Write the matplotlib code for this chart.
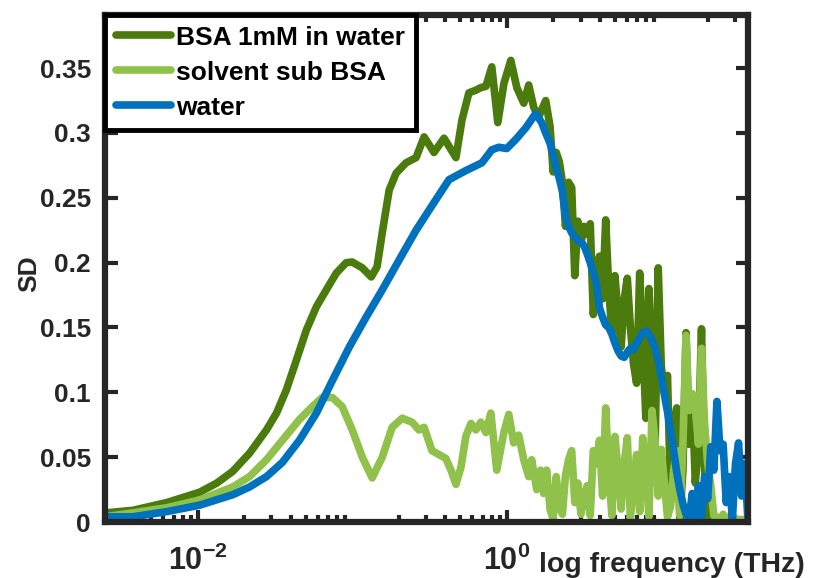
import matplotlib
matplotlib.use("Agg")
import matplotlib.pyplot as plt
import numpy as np
from matplotlib.ticker import FixedLocator, FormatStrFormatter, NullFormatter

# SD spectra vs log10 frequency (THz); the smooth low-frequency part of each
# trace is listed on its own, the noisy high-frequency part shares one grid.
bsa_logf = [-2.60, -2.42, -2.20, -1.987, -1.877, -1.774, -1.665, -1.555, -1.490, -1.426,
            -1.361, -1.297, -1.232, -1.168, -1.103, -1.039, -1.000, -0.935, -0.877, -0.839,
            -0.806, -0.761, -0.716, -0.652, -0.587, -0.535, -0.471, -0.406, -0.329, -0.290,
            -0.245, -0.200, -0.168, -0.135, -0.097, -0.058, -0.019, 0.026, 0.065, 0.110,
            0.142, 0.174, 0.206, 0.226, 0.252]
bsa_sd = [0.007, 0.009, 0.015, 0.023, 0.030, 0.039, 0.053, 0.071, 0.084, 0.102,
          0.125, 0.148, 0.166, 0.179, 0.192, 0.200, 0.2005, 0.196, 0.189, 0.197,
          0.223, 0.256, 0.269, 0.277, 0.281, 0.297, 0.285, 0.296, 0.281, 0.310,
          0.331, 0.333, 0.335, 0.336, 0.351, 0.308, 0.338, 0.356, 0.335, 0.323,
          0.337, 0.320, 0.312, 0.318, 0.325]

solvent_logf = [-2.60, -2.42, -2.20, -1.987, -1.774, -1.665, -1.555, -1.452, -1.342, -1.258,
                -1.194, -1.129, -1.065, -1.000, -0.935, -0.871, -0.806, -0.742, -0.677, -0.613,
                -0.568, -0.535, -0.484, -0.439, -0.394, -0.361, -0.329, -0.297, -0.265, -0.232,
                -0.200, -0.168, -0.135, -0.103, -0.065, -0.019, 0.013, 0.045, 0.077, 0.110,
                0.142, 0.161, 0.194, 0.219, 0.239, 0.258]
solvent_sd = [0.004, 0.007, 0.011, 0.017, 0.027, 0.035, 0.048, 0.063, 0.079, 0.089,
              0.096, 0.096, 0.089, 0.071, 0.050, 0.034, 0.050, 0.073, 0.080, 0.077,
              0.071, 0.073, 0.055, 0.052, 0.049, 0.040, 0.029, 0.042, 0.066, 0.076,
              0.071, 0.077, 0.069, 0.084, 0.040, 0.069, 0.083, 0.061, 0.067, 0.048,
              0.035, 0.048, 0.025, 0.040, 0.022, 0.040]

water_logf = [-2.60, -2.42, -2.20, -1.987, -1.774, -1.665, -1.555, -1.452, -1.342, -1.232,
              -1.129, -1.019, -0.910, -0.806, -0.697, -0.587, -0.484, -0.374, -0.265, -0.161,
              -0.097, -0.052, 0.000, 0.058, 0.123, 0.187, 0.226, 0.252]
water_sd = [0.004, 0.004, 0.008, 0.013, 0.021, 0.027, 0.035, 0.046, 0.063, 0.084,
            0.109, 0.135, 0.158, 0.179, 0.202, 0.225, 0.244, 0.264, 0.271, 0.277,
            0.287, 0.289, 0.288, 0.295, 0.304, 0.315, 0.308, 0.300]

hf_logf = [0.28, 0.30, 0.32, 0.34, 0.36, 0.38, 0.40, 0.42, 0.44, 0.46,
           0.48, 0.50, 0.52, 0.54, 0.56, 0.58, 0.60, 0.62, 0.64, 0.66,
           0.68, 0.70, 0.72, 0.74, 0.76, 0.78, 0.80, 0.82, 0.84, 0.86,
           0.88, 0.90, 0.92, 0.94, 0.96, 0.98, 1.00, 1.02, 1.04, 1.06,
           1.08, 1.10, 1.12, 1.14, 1.16, 1.18, 1.20, 1.22, 1.24, 1.26,
           1.28, 1.30, 1.32, 1.34, 1.36, 1.38, 1.40, 1.42, 1.44, 1.46,
           1.48, 1.50, 1.52, 1.54, 1.56]
bsa_hf = [0.305, 0.270, 0.285, 0.278, 0.262, 0.228, 0.262, 0.258, 0.190, 0.232,
          0.215, 0.228, 0.222, 0.230, 0.160, 0.190, 0.205, 0.172, 0.233, 0.180,
          0.146, 0.190, 0.160, 0.135, 0.172, 0.188, 0.150, 0.122, 0.107, 0.192,
          0.140, 0.080, 0.180, 0.120, 0.058, 0.196, 0.120, 0.100, 0.113, 0.020,
          0.075, 0.088, 0.002, 0.040, 0.146, 0.060, 0.098, 0.030, 0.060, 0.149,
          0.040, 0.003, 0.001, 0.001, 0.000, 0.001, 0.000, 0.001, 0.000, 0.001,
          0.000, 0.001, 0.000, 0.001, 0.000]
solvent_hf = [0.010, 0.002, 0.035, 0.012, 0.006, 0.036, 0.048, 0.055, 0.015, 0.030,
              0.006, 0.020, 0.028, 0.005, 0.055, 0.045, 0.063, 0.020, 0.088, 0.040,
              0.005, 0.066, 0.040, 0.010, 0.045, 0.065, 0.003, 0.030, 0.052, 0.008,
              0.065, 0.040, 0.004, 0.086, 0.062, 0.020, 0.056, 0.030, 0.004, 0.012,
              0.040, 0.055, 0.005, 0.060, 0.144, 0.086, 0.099, 0.088, 0.060, 0.134,
              0.076, 0.045, 0.028, 0.005, 0.003, 0.002, 0.006, 0.001, 0.004, 0.001,
              0.003, 0.001, 0.002, 0.001, 0.002]
water_hf = [0.292, 0.283, 0.273, 0.265, 0.255, 0.236, 0.228, 0.223, 0.220, 0.217,
            0.216, 0.213, 0.207, 0.200, 0.192, 0.184, 0.165, 0.158, 0.152, 0.150,
            0.145, 0.138, 0.132, 0.128, 0.127, 0.131, 0.134, 0.133, 0.138, 0.142,
            0.146, 0.147, 0.145, 0.140, 0.134, 0.125, 0.112, 0.098, 0.085, 0.070,
            0.055, 0.038, 0.025, 0.014, 0.006, 0.002, 0.022, 0.003, 0.028, 0.004,
            0.035, 0.018, 0.058, 0.040, 0.093, 0.055, 0.060, 0.015, 0.035, 0.002,
            0.045, 0.061, 0.020, 0.045, 0.003]

labels = ["BSA 1mM in water", "solvent sub BSA", "water"]
colors = ["#4A7B0C", "#8FC14B", "#0072BD"]

FONT = "Liberation Sans"
INK = "#262626"

plt.rcParams["font.family"] = [FONT, "DejaVu Sans"]
plt.rcParams["font.weight"] = "bold"
plt.rcParams["mathtext.fontset"] = "custom"
plt.rcParams["mathtext.rm"] = FONT + ":bold"
plt.rcParams["mathtext.bf"] = FONT + ":bold"

fig = plt.figure(figsize=(8.14, 5.78), dpi=100)
ax = fig.add_axes([105 / 814, 1 - 522 / 578, 643 / 814, 507 / 578])

series = [
    (bsa_logf + hf_logf, bsa_sd + bsa_hf),
    (solvent_logf + hf_logf, solvent_sd + solvent_hf),
    (water_logf + hf_logf, water_sd + water_hf),
]
for (lf, sd), lab, col in zip(series, labels, colors):
    ax.plot(10.0 ** np.array(lf), sd, color=col, lw=5.5, label=lab,
            solid_joinstyle="round", solid_capstyle="round")

ax.set_xscale("log")
ax.set_xlim(10 ** -2.6, 10 ** 1.561)
ax.set_ylim(0, 0.391)

ax.xaxis.set_major_locator(FixedLocator([1e-2, 1e0]))
ax.set_xticklabels([r"$\mathbf{10^{-2}}$", r"$\mathbf{10^{0}}$"])
minor = [m * 10.0 ** e for e in range(-3, 2) for m in range(2, 10)]
ax.xaxis.set_minor_locator(FixedLocator(minor))
ax.xaxis.set_minor_formatter(NullFormatter())
ax.set_yticks(np.arange(0, 0.351, 0.05))
ax.yaxis.set_major_formatter(FormatStrFormatter("%g"))

ax.tick_params(which="both", direction="in", top=True, right=True, colors=INK,
               labelsize=19, width=3)
ax.tick_params(which="major", length=9)
ax.tick_params(axis="y", which="major", pad=10)
ax.tick_params(axis="x", which="major", pad=17, labelsize=22)
ax.tick_params(which="minor", length=5)
for s in ax.spines.values():
    s.set_linewidth(4.5)
    s.set_color(INK)

ax.set_ylabel("SD", fontsize=19, fontweight="bold", color=INK)
ax.yaxis.set_label_coords(-0.099, 0.49)
ax.set_xlabel("log frequency (THz)", fontsize=20.5, fontweight="bold", color=INK)
ax.xaxis.set_label_coords(0.882, -0.06)

leg = ax.legend(loc="upper left", bbox_to_anchor=(0, 1), borderaxespad=0,
                fontsize=19, handlelength=2.1, handletextpad=0.2,
                labelspacing=0.42, borderpad=0.4, fancybox=False, framealpha=1)
leg.get_frame().set_edgecolor("black")
leg.get_frame().set_linewidth(3.5)
for t in leg.get_texts():
    t.set_fontweight("bold")

fig.savefig("out.png", dpi=100)
